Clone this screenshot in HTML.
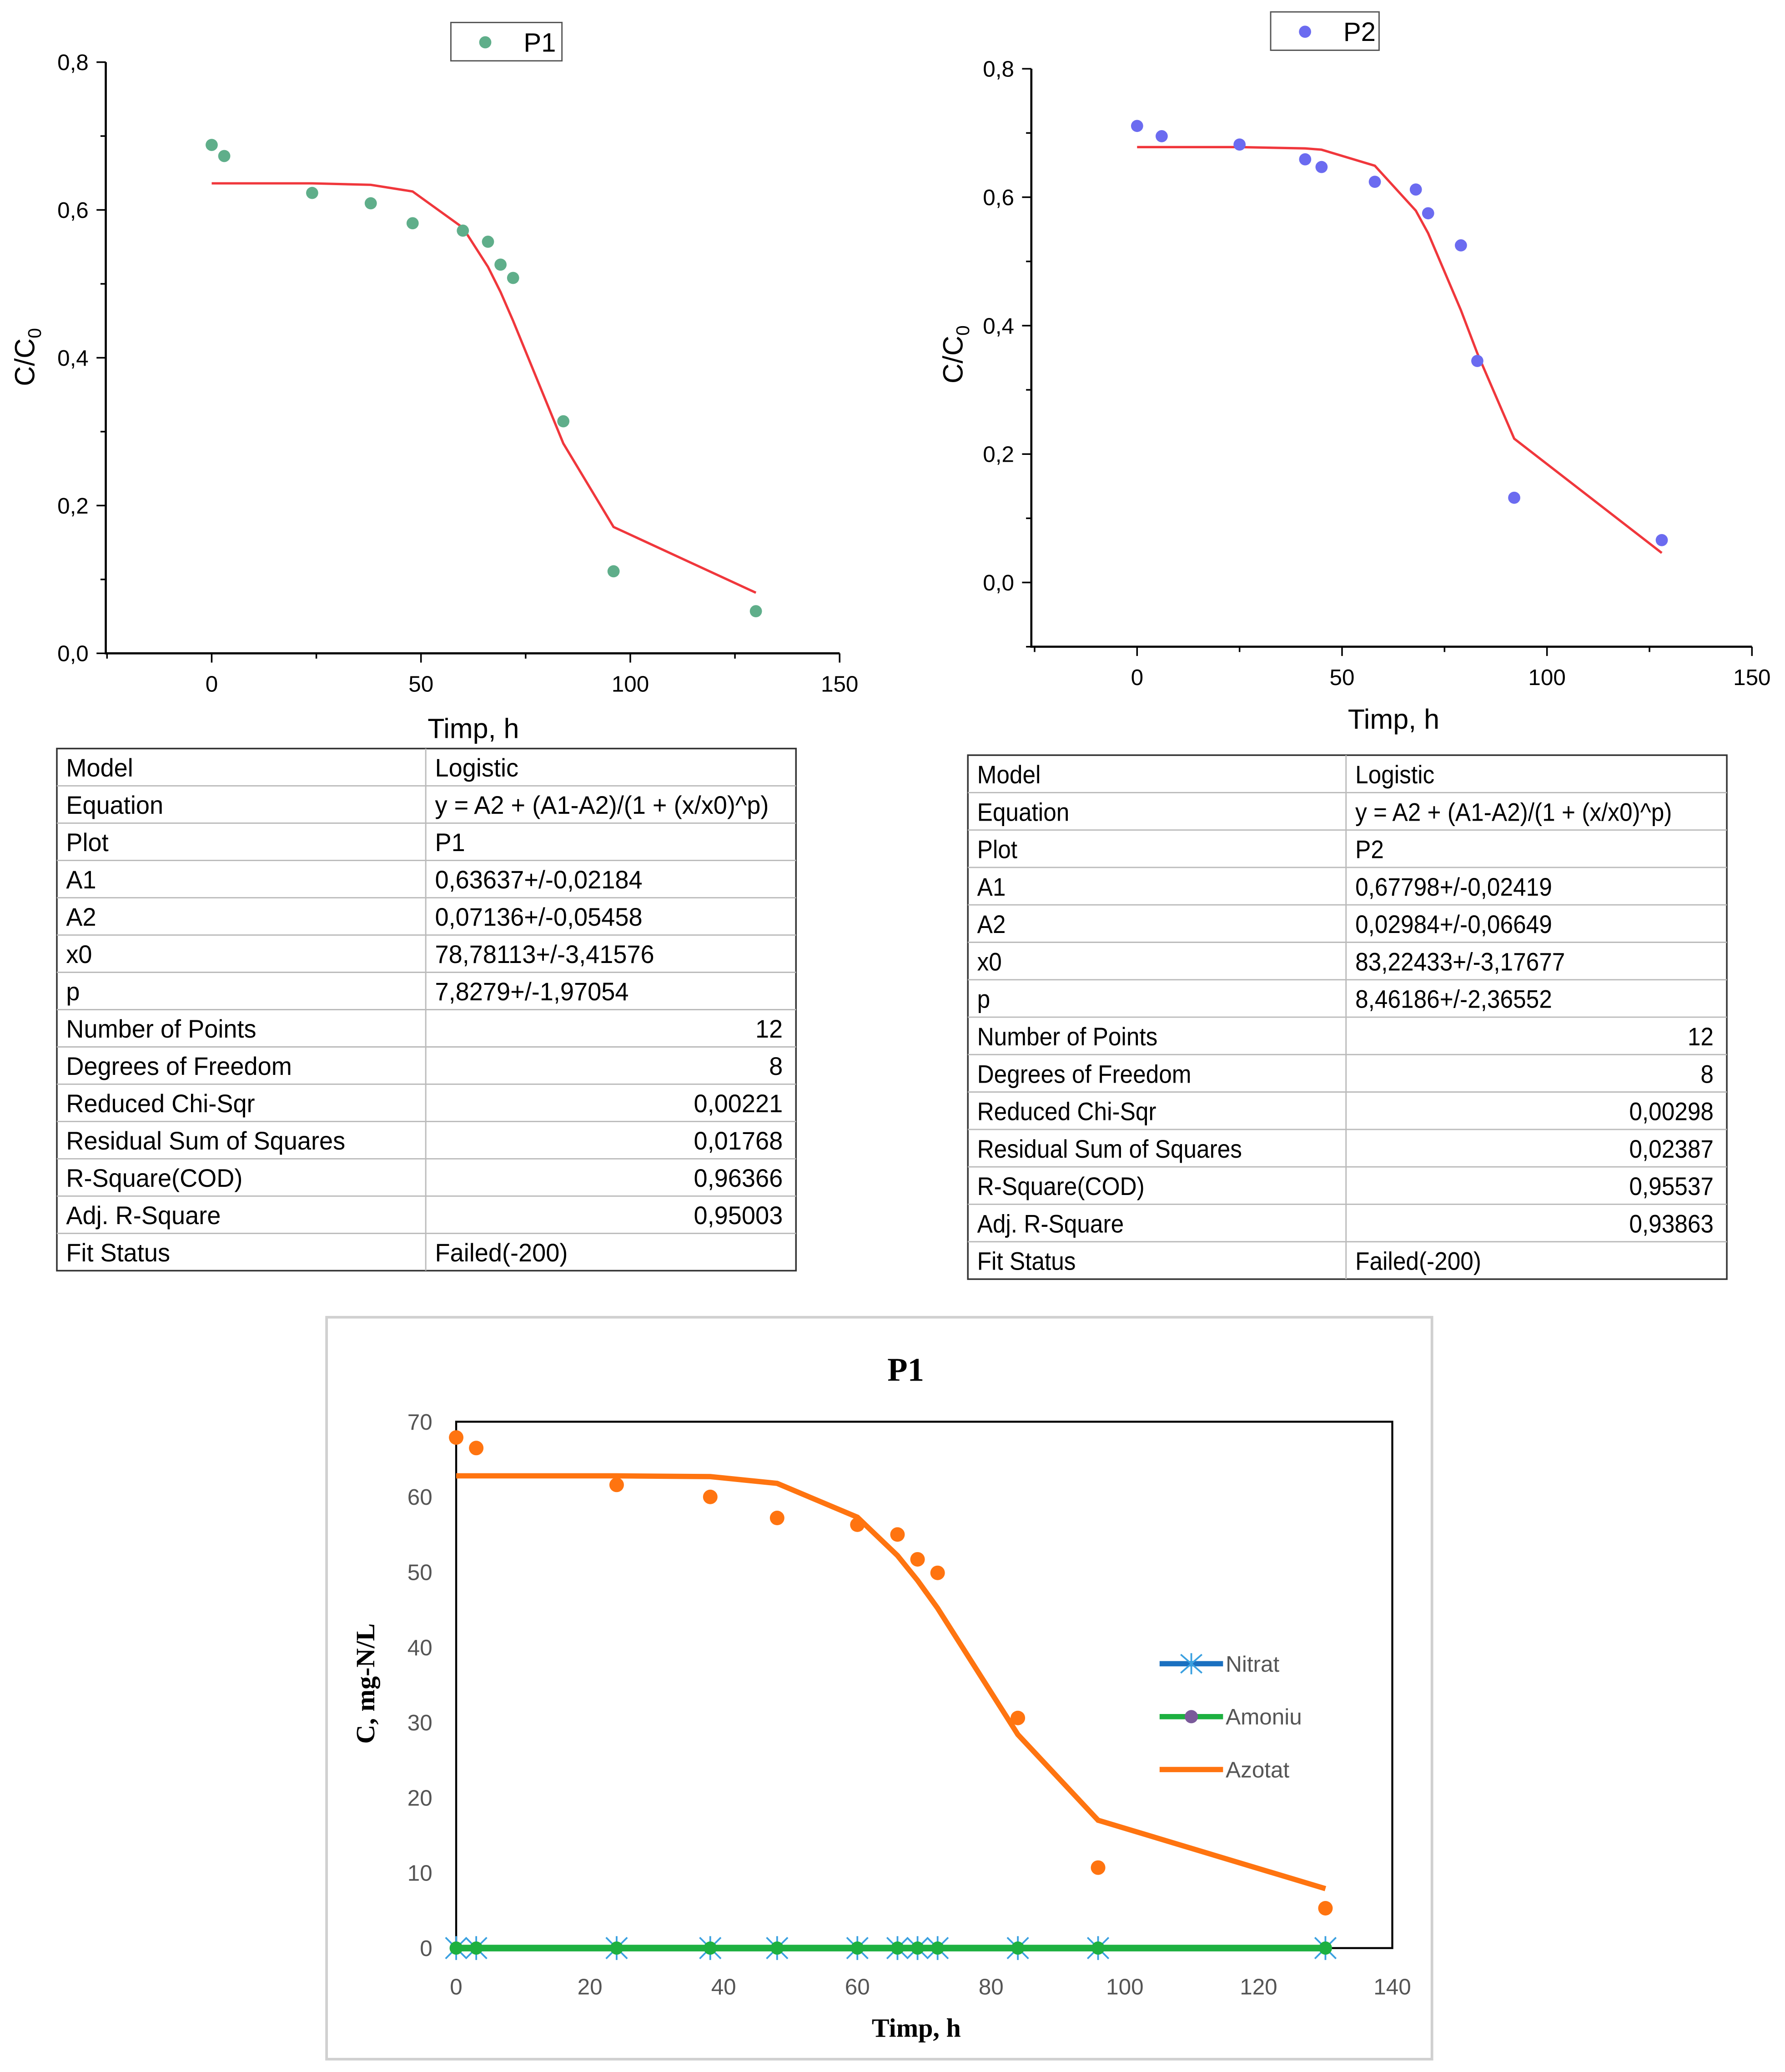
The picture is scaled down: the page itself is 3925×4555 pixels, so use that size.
<!DOCTYPE html>
<html><head><meta charset="utf-8"><style>
html,body{margin:0;padding:0;background:#fff}
svg{display:block}
text{font-family:"Liberation Sans",sans-serif}
.serif{font-family:"Liberation Serif",serif}
</style></head><body>
<svg id="root" width="3925" height="4555" viewBox="0 0 1350 1566.7" preserveAspectRatio="none" xmlns="http://www.w3.org/2000/svg">
<g id="c1"></g>
<g id="c2"></g>
<g id="t1"></g>
<g id="t2"></g>
<g id="c3"></g>
</svg>
<script>
// ---- data ----
const p1Time=[0,3,24,38,48,60,66,69,72,84,96,130];
const p1Ratio=[0.688,0.673,0.623,0.609,0.582,0.572,0.557,0.526,0.508,0.314,0.111,0.057];
const p1Fit=[0.636,0.636,0.636,0.634,0.625,0.576,0.523,0.489,0.450,0.284,0.171,0.082];
const p2Time=[0,6,25,41,45,58,68,71,79,83,92,128];
const p2Ratio=[0.711,0.695,0.682,0.659,0.647,0.624,0.612,0.575,0.525,0.345,0.132,0.066];
const p2Fit=[0.678,0.678,0.678,0.676,0.674,0.649,0.579,0.544,0.424,0.357,0.224,0.046];
const ratioTicks=['0,0','0,2','0,4','0,6','0,8'];
const ratioTickVals=[0,0.2,0.4,0.6,0.8];
const timeTicks=[0,50,100,150];
const azotat=[67.9,66.5,61.6,60,57.2,56.3,55,51.7,49.9,30.6,10.7,5.3];
const azotatFit=[62.8,62.8,62.8,62.7,61.8,57.3,52.2,48.9,45.2,28.4,17,7.9];
const nitrat=[0,0,0,0,0,0,0,0,0,0,0,0];
const amoniu=[0,0,0,0,0,0,0,0,0,0,0,0];
const concTicks=[0,10,20,30,40,50,60,70];
const timeTicks3=[0,20,40,60,80,100,120,140];
const table1=[["Model","Logistic"],["Equation","y = A2 + (A1-A2)/(1 + (x/x0)^p)"],["Plot","P1"],["A1","0,63637+/-0,02184"],["A2","0,07136+/-0,05458"],["x0","78,78113+/-3,41576"],["p","7,8279+/-1,97054"],["Number of Points","12",1],["Degrees of Freedom","8",1],["Reduced Chi-Sqr","0,00221",1],["Residual Sum of Squares","0,01768",1],["R-Square(COD)","0,96366",1],["Adj. R-Square","0,95003",1],["Fit Status","Failed(-200)"]];
const table2=[["Model","Logistic"],["Equation","y = A2 + (A1-A2)/(1 + (x/x0)^p)"],["Plot","P2"],["A1","0,67798+/-0,02419"],["A2","0,02984+/-0,06649"],["x0","83,22433+/-3,17677"],["p","8,46186+/-2,36552"],["Number of Points","12",1],["Degrees of Freedom","8",1],["Reduced Chi-Sqr","0,00298",1],["Residual Sum of Squares","0,02387",1],["R-Square(COD)","0,95537",1],["Adj. R-Square","0,93863",1],["Fit Status","Failed(-200)"]];

const NS="http://www.w3.org/2000/svg";
function mk(parent,tag,attrs,txt){const e=document.createElementNS(NS,tag);for(const k in attrs)e.setAttribute(k,attrs[k]);if(txt!==undefined)e.textContent=txt;parent.appendChild(e);return e;}

function ratioChart(g,o){
  const X=v=>o.x0+(v-o.xmin)*(o.x1-o.x0)/(o.xmax-o.xmin);
  const Y=v=>o.y0-(v-o.ymin)*(o.y0-o.y1)/(o.ymax-o.ymin);
  const ax=mk(g,'path',{d:`M${o.x0} ${o.y1}V${o.y0}H${o.x1}`,stroke:'#000','stroke-width':1.6,fill:'none'});
  
  for(let v=o.ymin;v<=o.ymax+1e-9;v+=0.1){mk(g,'line',{x1:o.x0-(Math.abs(v*5-Math.round(v*5))<1e-6?7:4),x2:o.x0,y1:Y(v),y2:Y(v),stroke:'#000','stroke-width':1.2});}
  for(let v=-25;v<=150;v+=25){mk(g,'line',{x1:X(v),x2:X(v),y1:o.y0,y2:o.y0+(v%50===0?7:4),stroke:'#000','stroke-width':1.2});}
  ratioTickVals.forEach((v,i)=>{const t=mk(g,'text',{x:o.x0-13,y:Y(v)+6,'text-anchor':'end','font-size':17},ratioTicks[i]);});
  timeTicks.forEach(v=>{const t=mk(g,'text',{x:X(v),y:o.y0+29,'text-anchor':'middle','font-size':17},String(v));});
  const xt=mk(g,'text',{x:o.xtx,y:o.xty,'text-anchor':'middle','font-size':21},'Timp, h');
  const yt=mk(g,'text',{transform:`translate(${o.ytx},${o.yty}) rotate(-90)`,'text-anchor':'middle','font-size':21});
  mk(yt,'tspan',{},'C/C');mk(yt,'tspan',{'font-size':14,dy:5},'0');
  const fit=mk(g,'polyline',{points:o.t.map((v,i)=>X(v)+','+Y(o.fit[i])).join(' '),fill:'none',stroke:'#f0373c','stroke-width':1.8});
  
  o.t.forEach((v,i)=>{const c=mk(g,'circle',{cx:X(v),cy:Y(o.d[i]),r:4.6,fill:o.color});});
  const lg=mk(g,'g',{});
  mk(lg,'rect',{x:o.lx,y:o.ly,width:o.lw,height:29,fill:'#fff',stroke:'#555','stroke-width':1});
  mk(lg,'circle',{cx:o.lx+26,cy:o.ly+15,r:4.6,fill:o.color});
  mk(lg,'text',{x:o.lx+55,y:o.ly+22,'font-size':20},o.name);
}
ratioChart(document.getElementById('c1'),{x0:80,x1:635,xmin:-25.3,xmax:150,y0:494,y1:47,ymin:0,ymax:0.8,t:p1Time,d:p1Ratio,fit:p1Fit,color:'#5fae8a',name:'P1',lx:341,ly:17,lw:84,xtx:358,xty:558,ytx:26,yty:270});
ratioChart(document.getElementById('c2'),{x0:780,x1:1325,xmin:-25.8,xmax:150,y0:489,y1:52,ymin:-0.1,ymax:0.8,t:p2Time,d:p2Ratio,fit:p2Fit,color:'#6b6bf0',name:'P2',lx:961,ly:9,lw:82,xtx:1054,xty:551,ytx:728,yty:268});

function table(g,rows,x0,x1,xs,y0,rh,sx){
  mk(g,'rect',{x:x0,y:y0,width:x1-x0,height:rh*rows.length,fill:'#fff',stroke:'#333','stroke-width':1.2});
  mk(g,'line',{x1:xs,x2:xs,y1:y0,y2:y0+rh*rows.length,stroke:'#bbb','stroke-width':1});
  rows.forEach((r,i)=>{
    const y=y0+rh*i;
    if(i>0)mk(g,'line',{x1:x0,x2:x1,y1:y,y2:y,stroke:'#bbb','stroke-width':1});
    const a=mk(g,'text',{x:x0+7,y:y+rh-7,'font-size':19,transform:`translate(${(x0+7)*(1-sx)},0) scale(${sx},1)`},r[0]);
    
    let b;
    if(r[2]) b=mk(g,'text',{x:x1-10,y:y+rh-7,'font-size':19,'text-anchor':'end',transform:`translate(${(x1-10)*(1-sx)},0) scale(${sx},1)`},r[1]);
    else b=mk(g,'text',{x:xs+7,y:y+rh-7,'font-size':19,transform:`translate(${(xs+7)*(1-sx)},0) scale(${sx},1)`},r[1]);
    
  });
}
table(document.getElementById('t1'),table1,43,602,322,566,28.2,0.98);
table(document.getElementById('t2'),table2,732,1306,1018,571,28.3,0.93);

(function(){
  const g=document.getElementById('c3');
  const X=v=>345+v*(1053-345)/140, Y=v=>1473-v*(1473-1075)/70;
  const fr=mk(g,'rect',{x:247,y:996,width:836,height:561,fill:'#fff',stroke:'#d0d0d0','stroke-width':2});
  
  const pa=mk(g,'rect',{x:345,y:1075,width:708,height:398,fill:'none',stroke:'#000','stroke-width':1.5});
  
  const ti=mk(g,'text',{x:685,y:1044,'text-anchor':'middle','font-size':25,'font-weight':'bold','class':'serif'},'P1');
  
  concTicks.forEach(v=>{const t=mk(g,'text',{x:327,y:Y(v)+6,'text-anchor':'end','font-size':17,fill:'#555'},String(v));});
  timeTicks3.forEach(v=>{const t=mk(g,'text',{x:X(v),y:1508,'text-anchor':'middle','font-size':17,fill:'#555'},String(v));});
  const xt=mk(g,'text',{x:693,y:1540,'text-anchor':'middle','font-size':20,'font-weight':'bold','class':'serif'},'Timp,  h');
  
  const yt=mk(g,'text',{transform:'translate(283,1273) rotate(-90)','text-anchor':'middle','font-size':20,'font-weight':'bold','class':'serif'},'C, mg-N/L');
  
  const fit=mk(g,'polyline',{points:p1Time.map((v,i)=>X(v)+','+Y(azotatFit[i])).join(' '),fill:'none',stroke:'#ff7410','stroke-width':4});
  
  p1Time.forEach((v,i)=>{const c=mk(g,'circle',{cx:X(v),cy:Y(azotat[i]),r:5.5,fill:'#ff7410'});});
  const am=mk(g,'polyline',{points:p1Time.map((v,i)=>X(v)+','+Y(amoniu[i])).join(' '),fill:'none',stroke:'#1db040','stroke-width':5});
  
  p1Time.forEach((v,i)=>{const x=X(v),y=Y(nitrat[i]);
    const s=mk(g,'path',{d:`M${x-8} ${y-8}L${x+8} ${y+8}M${x-8} ${y+8}L${x+8} ${y-8}M${x} ${y-9}V${y+9}`,stroke:'#3aa0e0','stroke-width':1.3,fill:'none'});
    
    const c=mk(g,'circle',{cx:x,cy:Y(amoniu[i]),r:5,fill:'#1db040'});
  });
  const lg=mk(g,'g',{});
  [['Nitrat','#1a70c0',1258],['Amoniu','#1db040',1298],['Azotat','#ff7410',1338]].forEach((e,i)=>{
    mk(lg,'line',{x1:877,x2:925,y1:e[2],y2:e[2],stroke:e[1],'stroke-width':4});
    if(i==0)mk(lg,'path',{d:`M893 ${e[2]-7}L909 ${e[2]+7}M893 ${e[2]+7}L909 ${e[2]-7}M901 ${e[2]-8}V${e[2]+8}`,stroke:'#3aa0e0','stroke-width':1.3});
    if(i==1)mk(lg,'circle',{cx:901,cy:e[2],r:5,fill:'#7a5a9a'});
    mk(lg,'text',{x:927,y:e[2]+6,'font-size':17,fill:'#555'},e[0]);
  });
})();
</script>
</body></html>
